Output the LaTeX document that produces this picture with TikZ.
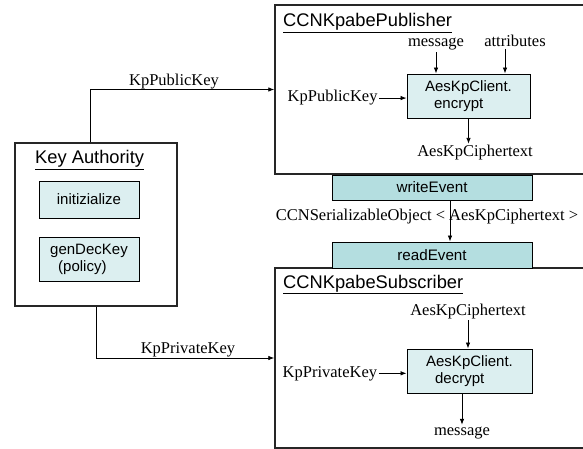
\documentclass[tikz,border=0pt]{standalone}
\usepackage{fontspec}
\setmainfont{Liberation Serif}
\setsansfont{Liberation Sans}
\usetikzlibrary{arrows.meta}
\definecolor{boxlight}{HTML}{DCEFF0}
\definecolor{boxdark}{HTML}{B4DEE0}
\begin{document}
\begin{tikzpicture}[x=1pt,y=-1pt,
  frame/.style={draw=black!85, line width=1.4pt, inner sep=0pt},
  opbox/.style={draw, line width=0.9pt, fill=boxlight, inner sep=0pt,
    font=\sffamily\fontsize{15}{17}\selectfont},
  evbox/.style={draw, line width=0.9pt, fill=boxdark, inner sep=0pt,
    minimum width=200pt, font=\sffamily\fontsize{15.2}{17}\selectfont},
  lbl/.style={font=\fontsize{16.5}{18}\selectfont, inner sep=1.5pt},
  ttl/.style={font=\sffamily\fontsize{18.3}{20}\selectfont, inner sep=0pt, anchor=base west},
  arr/.style={-{Latex[length=6pt,width=4.5pt]}, line width=0.8pt}]
\useasboundingbox (0,0) rectangle (583,449);

% outer components
\node[frame, minimum width=320pt, minimum height=169pt] (pub) at (435,89.5) {};
\node[frame, minimum width=320pt, minimum height=180pt] (sub) at (435,358) {};
\node[frame, minimum width=162pt, minimum height=163pt] (ka) at (96,224.5) {};

\node[ttl] (pubt) at (283,27) {\underline{CCNKpabePublisher}};
\node[ttl] (subt) at (283,288) {\underline{CCNKpabeSubscriber}};
\node[ttl] (kat) at (35,164) {\underline{Key Authority}};

% key authority operations
\node[opbox, minimum width=100pt, minimum height=37pt] (init) at (89,199.5) {initizialize};
\node[opbox, minimum width=100pt, minimum height=44pt, align=left] (gen) at (89,259)
  {genDecKey\\\hspace*{8pt}(policy)};

% event boxes
\node[evbox, minimum height=25pt] (write) at (432,187.5) {writeEvent};
\node[evbox, minimum height=26pt] (read) at (432,255) {readEvent};

% encrypt / decrypt
\node[opbox, minimum width=123pt, minimum height=44pt, align=left] (enc) at (468.5,96)
  {AesKpClient.\\\hspace*{9pt}encrypt};
\node[opbox, minimum width=125pt, minimum height=44pt, align=left] (dec) at (469.5,371)
  {AesKpClient.\\\hspace*{9pt}decrypt};

% publisher labels
\node[lbl, anchor=base] (msg) at (436,47) {message};
\node[lbl, anchor=base] (attr) at (515,47) {attributes};
\node[lbl, anchor=base west] (ppk) at (286,102) {KpPublicKey};
\node[lbl, anchor=base] (pct) at (475,157) {AesKpCiphertext};

\draw[arr] (msg.south) -- (msg.south |- enc.north);
\draw[arr] ([xshift=-10pt]attr.south) -- ([xshift=-10pt]attr.south |- enc.north);
\draw[arr] (ppk.east) -- (ppk.east -| enc.west);
\draw[arr] (enc.south) -- (enc.south |- pct.north);

% transfer between publisher and subscriber
\node[lbl, anchor=base] (obj) at (427,220) {CCNSerializableObject < AesKpCiphertext >};
\draw[arr] ([xshift=18pt]write.south) -- ([xshift=18pt]read.north);

% subscriber labels
\node[lbl, anchor=base] (sct) at (468,315) {AesKpCiphertext};
\node[lbl, anchor=base west] (spk) at (281,377) {KpPrivateKey};
\node[lbl, anchor=base] (smsg) at (462,435) {message};

\draw[arr] (sct.south) -- (sct.south |- dec.north);
\draw[arr] (spk.east) -- (spk.east -| dec.west);
\draw[arr] ([xshift=-7.5pt]dec.south) -- ([xshift=-7.5pt]dec.south |- smsg.north);

% key distribution
\node[lbl, anchor=base] (kpub) at (174,86) {KpPublicKey};
\node[lbl, anchor=base] (kpriv) at (188,353) {KpPrivateKey};
\draw[arr] ([xshift=-6pt]ka.north) |- (pub.west);
\draw[arr] (ka.south) |- (sub.west);
\end{tikzpicture}
\end{document}
